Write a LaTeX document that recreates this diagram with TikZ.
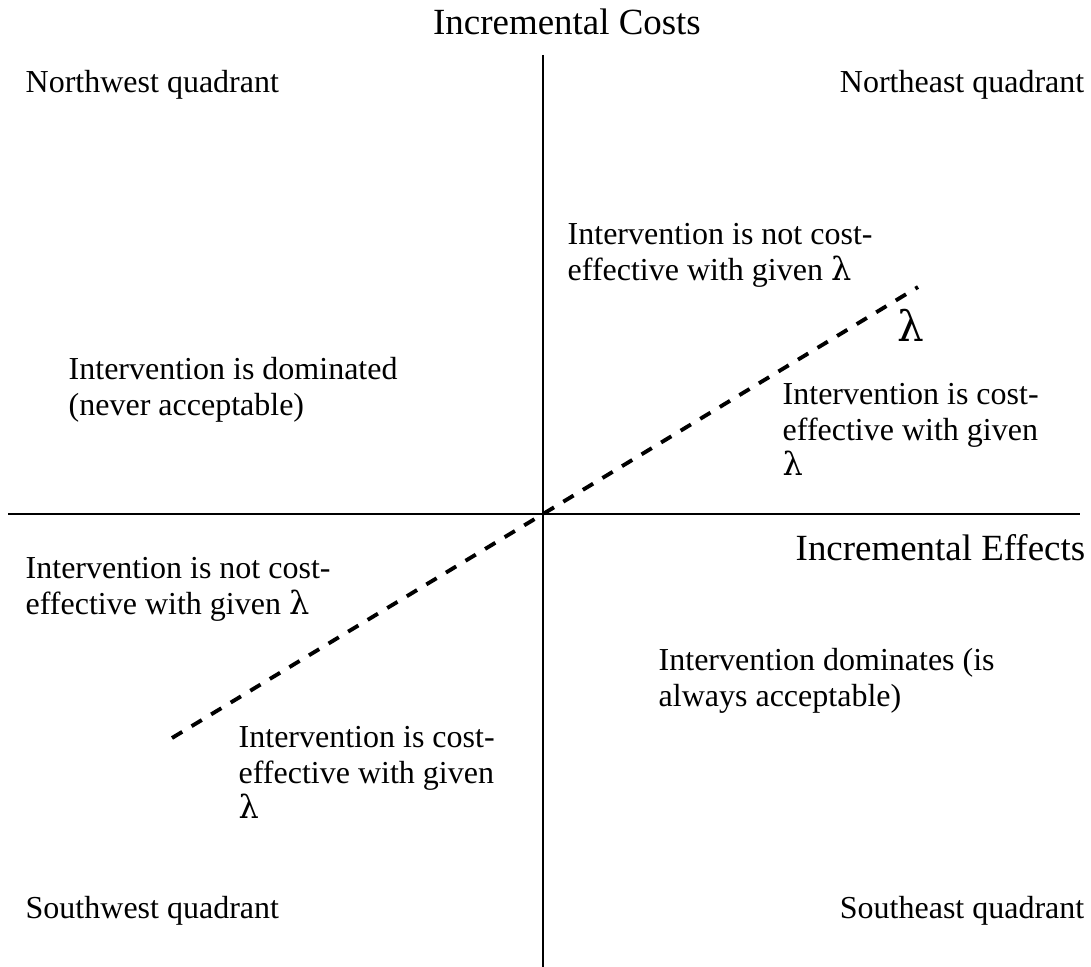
\documentclass[tikz,border=0pt]{standalone}
\usepackage{fontspec}
\setmainfont{Liberation Serif}
\newfontfamily\lamfont{DejaVu Serif}
\newcommand{\lam}{{\lamfont λ}}
\usetikzlibrary{positioning}

\begin{document}
\begin{tikzpicture}[x=0.01cm,y=-0.01cm,
    txt/.style={inner sep=0pt,font=\fontsize{9.1pt}{10pt}\selectfont},
    boxtxt/.style={txt,align=left,anchor=north west},
    axistxt/.style={inner sep=0pt,font=\fontsize{10.5pt}{12pt}\selectfont},
    axisline/.style={line width=0.7pt},
    lambdaline/.style={line width=1.1pt,dash pattern=on 3.4pt off 3.1pt}]
			\useasboundingbox (0,0) rectangle (1091,967);
			% axes
			\coordinate (origin) at (543,514);
			\coordinate (xleft) at (8,514);
			\coordinate (xright) at (1080,514);
			\coordinate (ytop) at (543,55);
			\coordinate (ybot) at (543,967);
			\draw[axisline] (xleft) -- (xright);
			\draw[axisline] (ytop) -- (ybot);
			\node[axistxt,anchor=base] (costs) at (567,35) {Incremental Costs};
			\node[axistxt,anchor=base west] (effects) at (795,560) {Incremental Effects};
			% threshold line
			\coordinate (lamlo) at (172,738);
			\coordinate (lamhi) at (918,287);
			\draw[lambdaline] (lamlo) -- (origin) -- (lamhi);
			\node[inner sep=0pt,anchor=base west,font=\fontsize{12pt}{14pt}\selectfont] (lam) at (897,342) {\lam};
			% quadrant names
			\node[txt,anchor=base west] (nw) at (25,93) {Northwest quadrant};
			\node[txt,anchor=base east] (ne) at (1085,93) {Northeast quadrant};
			\node[txt,anchor=base west] (sw) at (25,918) {Southwest quadrant};
			\node[txt,anchor=base east] (se) at (1085,918) {Southeast quadrant};
			% regions
			\node[boxtxt] (nenot) at (567,223) {Intervention is not cost-\\effective with given \lam};
			\node[boxtxt] (nwdom) at (68,357) {Intervention is dominated\\(never acceptable)};
			\node[boxtxt] (neok) at (782,383) {Intervention is cost-\\effective with given\\\lam};
			\node[boxtxt] (swnot) at (25,557) {Intervention is not cost-\\effective with given \lam};
			\node[boxtxt] (sedom) at (658,648) {Intervention dominates (is\\always acceptable)};
			\node[boxtxt] (swok) at (238,726) {Intervention is cost-\\effective with given\\\lam};
		\end{tikzpicture}
\end{document}
